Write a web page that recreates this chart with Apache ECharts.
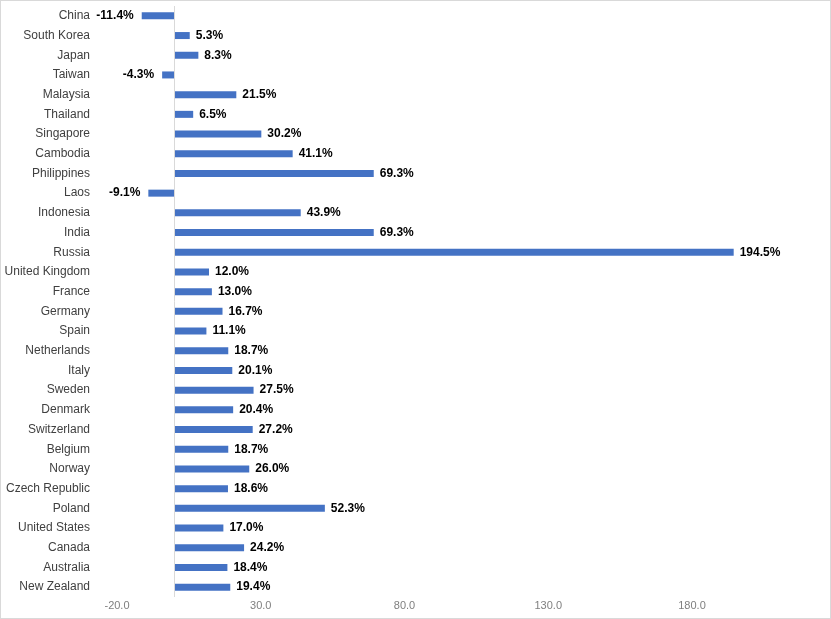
<!DOCTYPE html>
<html>
<head>
<meta charset="utf-8">
<script src="https://cdn.jsdelivr.net/npm/echarts@6/dist/echarts.min.js"></script>
<style>
html,body{margin:0;padding:0;background:#fff;}
#wrap{width:831px;height:619px;box-sizing:border-box;border:1px solid #d9d9d9;}
#chart{width:829px;height:617px;}
</style>
</head>
<body>
<div id="wrap"><div id="chart"></div></div>
<script>
const categories = ["China","South Korea","Japan","Taiwan","Malaysia","Thailand","Singapore","Cambodia","Philippines","Laos","Indonesia","India","Russia","United Kingdom","France","Germany","Spain","Netherlands","Italy","Sweden","Denmark","Switzerland","Belgium","Norway","Czech Republic","Poland","United States","Canada","Australia","New Zealand"];
const values = [-11.4,5.3,8.3,-4.3,21.5,6.5,30.2,41.1,69.3,-9.1,43.9,69.3,194.5,12.0,13.0,16.7,11.1,18.7,20.1,27.5,20.4,27.2,18.7,26.0,18.6,52.3,17.0,24.2,18.4,19.4];
const xTicks = [-20,30,80,130,180];

const FONT = '"Liberation Sans", Arial, sans-serif';
const chart = echarts.init(document.getElementById('chart'));
const seriesData = values.map(v => ({
  value: v,
  label: { position: v < 0 ? 'left' : 'right', distance: v < 0 ? 8 : 6 }
}));
chart.setOption({
  animation: false,
  backgroundColor: '#fff',
  grid: { left: 116, right: 23, top: 5, bottom: 21, containLabel: false },
  xAxis: {
    type: 'value', min: xTicks[0], max: 220, interval: 50,
    axisLine: { show: false }, axisTick: { show: false }, splitLine: { show: false },
    axisLabel: {
      showMaxLabel: false, color: '#7f7f7f', fontSize: 11, fontFamily: FONT, margin: 3,
      formatter: v => v.toFixed(1)
    }
  },
  yAxis: {
    type: 'category', data: categories, inverse: true,
    axisLine: { show: false }, axisTick: { show: false },
    axisLabel: { color: '#404040', fontSize: 12, fontFamily: FONT, margin: 27 }
  },
  series: [{
    type: 'bar', data: seriesData, barWidth: 7,
    itemStyle: { color: '#4472C4' },
    label: {
      show: true, fontWeight: 'bold', fontSize: 12, fontFamily: FONT, color: '#000',
      formatter: p => p.value.toFixed(1) + '%'
    },
    markLine: {
      silent: true, symbol: 'none', label: { show: false },
      lineStyle: { color: '#d9d9d9', type: 'solid', width: 1 },
      data: [{ xAxis: 0 }]
    }
  }]
});
</script>
</body>
</html>
